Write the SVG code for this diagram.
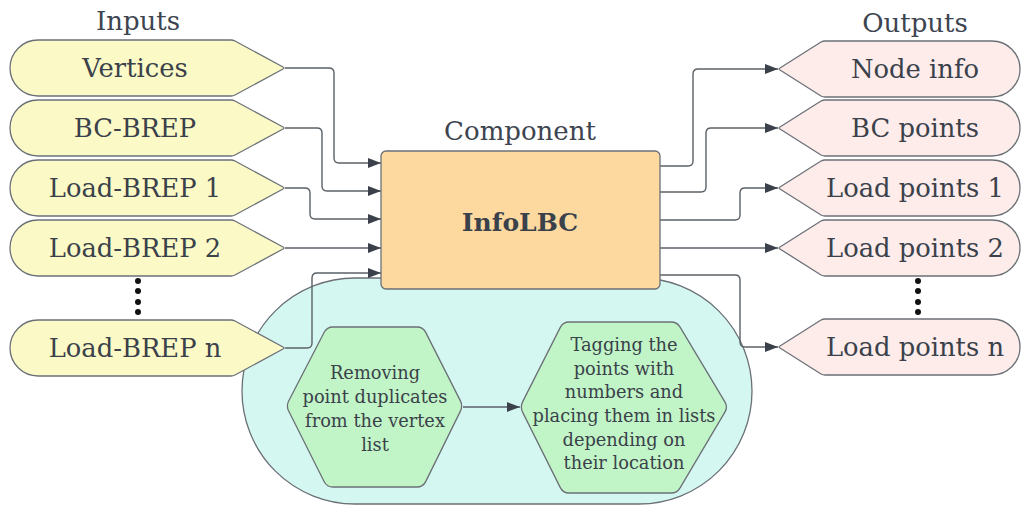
<svg xmlns="http://www.w3.org/2000/svg" width="1024" height="506" viewBox="0 0 1024 506">
<style>
text{font-family:"DejaVu Serif","Liberation Serif",serif;fill:#3a414a;text-anchor:middle}
.lbl{font-size:25.8px}
.ttl{font-size:26px;fill:#3d4450}
.hex{font-size:17.8px}
.in{fill:#fbf9c6;stroke:#6b7077;stroke-width:1.3}
.out{fill:#fdecea;stroke:#6b7077;stroke-width:1.3}
.hx{fill:#c1f4c6;stroke:#6b7077;stroke-width:1.3}
.con{fill:none;stroke:#5b6168;stroke-width:1.4}
.dot{fill:#111}
</style>
<defs>
<marker id="ah" markerWidth="13" markerHeight="10" refX="13" refY="5" orient="auto" markerUnits="userSpaceOnUse"><path d="M0,0 L13,5 L0,10 Z" fill="#3a414a"/></marker>
<path id="inShape" d="M38,-28 H231 Q233,-28 235,-27 L283,-1 Q285,0 283,1 L235,27 Q233,28 231,28 H38 A28,28 0 0 1 38,-28 Z"/>
<path id="outShape" d="M825,-28 H992 A28,28 0 0 1 992,28 H825 Q823,28 821,27 L780,1 Q778,0 780,-1 L821,-27 Q823,-28 825,-28 Z"/>
</defs>
<rect id="container" x="242" y="278" width="510" height="226" rx="113" ry="113" fill="#d5f7f1" stroke="#6b7077" stroke-width="1.3"/>
<text class="ttl" x="138" y="30">Inputs</text>
<text class="ttl" x="915" y="32">Outputs</text>
<text class="ttl" x="520" y="140">Component</text>
<g id="in-vertices"><use href="#inShape" class="in" transform="translate(0,68)"/><text class="lbl" x="135" y="77">Vertices</text></g>
<g id="in-bc"><use href="#inShape" class="in" transform="translate(0,128)"/><text class="lbl" x="135" y="137">BC-BREP</text></g>
<g id="in-load1"><use href="#inShape" class="in" transform="translate(0,188)"/><text class="lbl" x="135" y="197">Load-BREP 1</text></g>
<g id="in-load2"><use href="#inShape" class="in" transform="translate(0,248)"/><text class="lbl" x="135" y="257">Load-BREP 2</text></g>
<g id="in-dots"><circle class="dot" cx="138" cy="281" r="3"/><circle class="dot" cx="138" cy="291" r="3"/><circle class="dot" cx="138" cy="302" r="3"/><circle class="dot" cx="138" cy="312" r="3"/></g>
<g id="in-loadn"><use href="#inShape" class="in" transform="translate(0,348)"/><text class="lbl" x="135" y="357">Load-BREP n</text></g>
<g id="out-node"><use href="#outShape" class="out" transform="translate(0,69)"/><text class="lbl" x="915" y="78">Node info</text></g>
<g id="out-bc"><use href="#outShape" class="out" transform="translate(0,128)"/><text class="lbl" x="915" y="137">BC points</text></g>
<g id="out-load1"><use href="#outShape" class="out" transform="translate(0,188)"/><text class="lbl" x="915" y="197">Load points 1</text></g>
<g id="out-load2"><use href="#outShape" class="out" transform="translate(0,248)"/><text class="lbl" x="915" y="257">Load points 2</text></g>
<g id="out-dots"><circle class="dot" cx="918" cy="281" r="3"/><circle class="dot" cx="918" cy="291" r="3"/><circle class="dot" cx="918" cy="302" r="3"/><circle class="dot" cx="918" cy="312" r="3"/></g>
<g id="out-loadn"><use href="#outShape" class="out" transform="translate(0,347)"/><text class="lbl" x="915" y="356">Load points n</text></g>
<g id="hex-remove"><path class="hx" d="M333,327 H417 Q423,327 425.7,332.4 L460.3,400.6 Q463,406 460.3,411.4 L425.7,481.6 Q423,487 417,487 H333 Q327,487 324.2,481.7 L288.8,411.3 Q286,406 288.8,400.7 L324.2,332.3 Q327,327 333,327 Z"/>
<text class="hex"><tspan x="375" y="379">Removing</tspan><tspan x="375" y="403">point duplicates</tspan><tspan x="375" y="427">from the vertex</tspan><tspan x="375" y="451">list</tspan></text></g>
<g id="hex-tag"><path class="hx" d="M569,322 H671 Q677,322 680.1,327.1 L724.9,401.9 Q728,407 724.9,412.2 L680.1,487.8 Q677,493 671,493 H569 Q563,493 560.3,487.6 L522.7,412.4 Q520,407 522.7,401.6 L560.3,327.4 Q563,322 569,322 Z"/>
<text class="hex"><tspan x="624" y="351">Tagging the</tspan><tspan x="624" y="375">points with</tspan><tspan x="624" y="398">numbers and</tspan><tspan x="624" y="422">placing them in lists</tspan><tspan x="624" y="446">depending on</tspan><tspan x="624" y="469">their location</tspan></text></g>
<g id="connectors">
<path class="con" marker-end="url(#ah)" d="M285,68 H329 Q334,68 334,73 V158 Q334,163 339,163 H381"/>
<path class="con" marker-end="url(#ah)" d="M285,128 H317 Q322,128 322,133 V186 Q322,191 327,191 H381"/>
<path class="con" marker-end="url(#ah)" d="M285,188 H305 Q310,188 310,193 V214 Q310,219 315,219 H381"/>
<path class="con" marker-end="url(#ah)" d="M285,248 H381"/>
<path class="con" marker-end="url(#ah)" d="M285,348 H307 Q312,348 312,343 V278 Q312,273 317,273 H381"/>
<path class="con" marker-end="url(#ah)" d="M660,166 H688 Q693,166 693,161 V74 Q693,69 698,69 H778"/>
<path class="con" marker-end="url(#ah)" d="M660,192 H701 Q706,192 706,187 V133 Q706,128 711,128 H778"/>
<path class="con" marker-end="url(#ah)" d="M660,220 H735 Q740,220 740,215 V193 Q740,188 745,188 H778"/>
<path class="con" marker-end="url(#ah)" d="M660,248 H778"/>
<path class="con" marker-end="url(#ah)" d="M660,275 H735 Q740,275 740,280 V342 Q740,347 745,347 H778"/>
<path class="con" marker-end="url(#ah)" d="M463,407 H520"/>
</g>
<g id="component"><rect x="381" y="151" width="279" height="138" rx="5" fill="#fdd9a0" stroke="#6b7077" stroke-width="1.3"/><text x="520" y="231" style="font-size:25px;font-weight:bold">InfoLBC</text></g>
</svg>
